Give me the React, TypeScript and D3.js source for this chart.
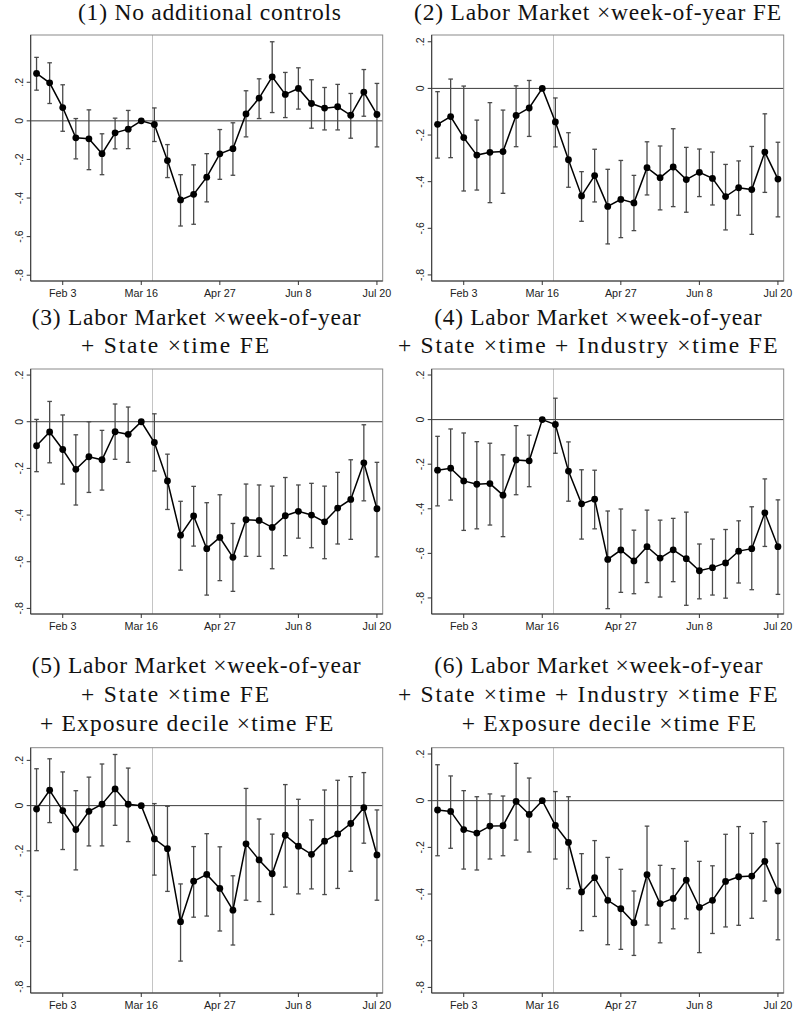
import React from 'react';
import * as d3 from 'd3';

// week-of-year coefficients, one Monday per point, Jan 20 .. Jul 20 (2020)
const weeks = d3.utcMonday.range(new Date(Date.UTC(2020, 0, 20)), new Date(Date.UTC(2020, 6, 21)));

const tickDates = ['2020-02-03', '2020-03-16', '2020-04-27', '2020-06-08', '2020-07-20'];
const tickLabels = ['Feb 3', 'Mar 16', 'Apr 27', 'Jun 8', 'Jul 20'];
const yTicks = [0.2, 0, -0.2, -0.4, -0.6, -0.8];
const yTickLabels = ['.2', '0', '-.2', '-.4', '-.6', '-.8'];
const eventDate = '2020-03-22';

const titles = [
  ['(1) No additional controls'],
  ['(2) Labor Market \u00d7week-of-year FE'],
  ['(3) Labor Market \u00d7week-of-year', '+ State \u00d7time FE'],
  ['(4) Labor Market \u00d7week-of-year', '+ State \u00d7time + Industry \u00d7time FE'],
  ['(5) Labor Market \u00d7week-of-year', '+ State \u00d7time FE', '+ Exposure decile \u00d7time FE'],
  ['(6) Labor Market \u00d7week-of-year', '+ State \u00d7time + Industry \u00d7time FE', '+ Exposure decile \u00d7time FE'],
];

const est1 = [0.246, 0.197, 0.069, -0.088, -0.093, -0.170, -0.062, -0.043, 0, -0.019, -0.206, -0.410, -0.381, -0.292, -0.171, -0.144, 0.036, 0.118, 0.228, 0.137, 0.168, 0.090, 0.066, 0.073, 0.029, 0.149, 0.033];
const hi1 = [0.329, 0.301, 0.187, 0.012, 0.057, -0.067, 0.014, 0.054, null, 0.067, -0.123, -0.279, -0.228, -0.170, -0.045, -0.010, 0.156, 0.218, 0.410, 0.251, 0.275, 0.213, 0.173, 0.189, 0.142, 0.266, 0.194];
const lo1 = [0.159, 0.090, -0.054, -0.197, -0.253, -0.279, -0.145, -0.144, null, -0.107, -0.294, -0.545, -0.536, -0.420, -0.303, -0.282, -0.083, 0.012, 0.043, 0.017, 0.061, -0.038, -0.047, -0.047, -0.090, 0.024, -0.135];

const est2 = [-0.154, -0.121, -0.211, -0.286, -0.274, -0.271, -0.116, -0.084, 0, -0.144, -0.306, -0.461, -0.374, -0.506, -0.476, -0.491, -0.340, -0.383, -0.337, -0.391, -0.360, -0.386, -0.464, -0.426, -0.434, -0.273, -0.389];
const hi2 = [-0.014, 0.040, 0.010, -0.136, -0.061, -0.093, 0.011, 0.034, null, -0.041, -0.190, -0.357, -0.261, -0.347, -0.309, -0.373, -0.229, -0.247, -0.173, -0.253, -0.260, -0.273, -0.326, -0.311, -0.249, -0.109, -0.231];
const lo2 = [-0.299, -0.297, -0.440, -0.436, -0.490, -0.450, -0.250, -0.206, null, -0.251, -0.424, -0.570, -0.487, -0.667, -0.640, -0.610, -0.457, -0.521, -0.507, -0.531, -0.464, -0.500, -0.607, -0.544, -0.626, -0.446, -0.551];

const est3 = [-0.103, -0.044, -0.119, -0.204, -0.150, -0.163, -0.043, -0.054, 0, -0.089, -0.254, -0.486, -0.404, -0.544, -0.496, -0.581, -0.420, -0.423, -0.453, -0.403, -0.384, -0.400, -0.429, -0.370, -0.333, -0.176, -0.373];
const hi3 = [0.010, 0.087, 0.029, -0.056, 0.000, -0.037, 0.076, 0.063, null, 0.034, -0.139, -0.341, -0.277, -0.347, -0.313, -0.436, -0.267, -0.271, -0.276, -0.239, -0.271, -0.264, -0.276, -0.217, -0.163, -0.013, -0.174];
const lo3 = [-0.214, -0.176, -0.267, -0.357, -0.303, -0.293, -0.161, -0.174, null, -0.211, -0.376, -0.636, -0.533, -0.743, -0.681, -0.727, -0.577, -0.577, -0.630, -0.574, -0.499, -0.540, -0.587, -0.524, -0.504, -0.339, -0.579];

const est4 = [-0.227, -0.218, -0.275, -0.290, -0.287, -0.339, -0.181, -0.185, 0, -0.022, -0.231, -0.378, -0.357, -0.627, -0.585, -0.634, -0.570, -0.621, -0.584, -0.624, -0.678, -0.664, -0.643, -0.590, -0.579, -0.418, -0.570];
const hi4 = [-0.075, -0.042, -0.060, -0.099, -0.106, -0.158, -0.027, -0.070, null, 0.096, -0.100, -0.225, -0.227, -0.410, -0.401, -0.496, -0.406, -0.451, -0.443, -0.415, -0.558, -0.536, -0.493, -0.454, -0.391, -0.266, -0.360];
const lo4 = [-0.387, -0.361, -0.497, -0.490, -0.473, -0.525, -0.337, -0.301, null, -0.151, -0.366, -0.536, -0.490, -0.848, -0.775, -0.781, -0.731, -0.796, -0.727, -0.833, -0.804, -0.787, -0.801, -0.733, -0.763, -0.569, -0.784];

const est5 = [-0.015, 0.068, -0.022, -0.106, -0.025, 0.006, 0.074, 0.006, 0, -0.147, -0.190, -0.513, -0.334, -0.304, -0.366, -0.462, -0.169, -0.240, -0.301, -0.131, -0.179, -0.215, -0.157, -0.125, -0.079, -0.009, -0.218];
const hi5 = [0.163, 0.207, 0.149, 0.066, 0.126, 0.184, 0.226, 0.166, null, 0.009, -0.003, -0.346, -0.181, -0.124, -0.182, -0.310, 0.076, -0.059, -0.126, 0.093, 0.028, -0.063, 0.069, 0.112, 0.128, 0.146, -0.019];
const lo5 = [-0.199, -0.075, -0.194, -0.284, -0.178, -0.178, -0.087, -0.159, null, -0.307, -0.379, -0.687, -0.493, -0.488, -0.554, -0.616, -0.418, -0.424, -0.481, -0.360, -0.390, -0.368, -0.393, -0.366, -0.290, -0.166, -0.418];

const est6 = [-0.040, -0.046, -0.124, -0.139, -0.109, -0.107, -0.003, -0.059, 0, -0.106, -0.179, -0.391, -0.330, -0.427, -0.463, -0.523, -0.317, -0.441, -0.419, -0.340, -0.457, -0.427, -0.346, -0.326, -0.323, -0.260, -0.387];
const hi6 = [0.154, 0.106, 0.043, 0.017, 0.029, 0.020, 0.160, 0.097, null, 0.039, 0.017, -0.227, -0.171, -0.243, -0.294, -0.387, -0.109, -0.277, -0.291, -0.174, -0.260, -0.279, -0.144, -0.111, -0.140, -0.090, -0.183];
const lo6 = [-0.236, -0.204, -0.293, -0.297, -0.250, -0.236, -0.169, -0.220, null, -0.250, -0.377, -0.557, -0.496, -0.617, -0.637, -0.663, -0.533, -0.609, -0.549, -0.506, -0.651, -0.569, -0.541, -0.534, -0.504, -0.430, -0.596];

const estimates = [est1, est2, est3, est4, est5, est6];
const upper = [hi1, hi2, hi3, hi4, hi5, hi6];
const lower = [lo1, lo2, lo3, lo4, lo5, lo6];

// y range of each panel (Stata pads each one a little differently)
const yDomains = [[-0.83, 0.445], [-0.826, 0.229], [-0.824, 0.226], [-0.872, 0.227], [-0.828, 0.256], [-0.824, 0.227]];

// layout
const W = 795;
const H = 1024;
const colX = [30.7, 431.7];
const rowY = [[35, 281], [369, 614], [747.7, 993]];
const plotW = 352;
const dayPad = 3.1;
// title lines: [x start, x end, baseline]
const titleLayout = [
  [[78, 341, 20]],
  [[414, 781, 20]],
  [[31.7, 360.7, 325], [81, 269, 352.7]],
  [[434.3, 761.7, 325], [398, 777.7, 352.7]],
  [[31.7, 360.7, 673.3], [81, 269, 702.2], [40, 333.3, 730.7]],
  [[434.3, 762.7, 673.3], [398, 777.7, 702.2], [461.7, 756, 730.7]],
];

const serif = '"Liberation Serif", "Times New Roman", serif';
const sans = '"Liberation Sans", Arial, Helvetica, sans-serif';

function Panel({ idx }: { idx: number }) {
  const x0 = colX[idx % 2];
  const [y0, y1] = rowY[Math.floor(idx / 2)];
  const first = weeks[0];
  const last = weeks[weeks.length - 1];
  const x = d3.scaleUtc()
    .domain([d3.utcHour.offset(first, -dayPad * 24), d3.utcHour.offset(last, dayPad * 24)])
    .range([x0, x0 + plotW]);
  const y = d3.scaleLinear().domain(yDomains[idx]).range([y1, y0]);

  const est = estimates[idx];
  const hi = upper[idx];
  const lo = lower[idx];
  const pts = weeks.map((d, i) => ({ d, v: est[i], hi: hi[i], lo: lo[i] }));
  const line = d3.line<{ d: Date; v: number }>().x(p => x(p.d)).y(p => y(p.v));
  const ev = x(new Date(eventDate));

  return (
    <g>
      {/* vertical event line */}
      <line x1={ev} x2={ev} y1={y0} y2={y1} stroke="#c4c4c4" strokeWidth={1} />
      {/* zero line */}
      <line x1={x0} x2={x0 + plotW} y1={y(0)} y2={y(0)} stroke="#3a3a3a" strokeWidth={1} />
      {/* frame */}
      <rect x={x0} y={y0} width={plotW} height={y1 - y0} fill="none" stroke="#8a8a8a" strokeWidth={1} />
      <line x1={x0} x2={x0} y1={y0} y2={y1} stroke="#333" strokeWidth={1} />
      <line x1={x0} x2={x0 + plotW} y1={y1} y2={y1} stroke="#333" strokeWidth={1} />

      {/* y axis */}
      {yTicks.map((t, i) => (
        <g key={'y' + i}>
          <line x1={x0 - 4} x2={x0} y1={y(t)} y2={y(t)} stroke="#333" strokeWidth={1} />
          <text
            transform={`translate(${x0 - 8},${y(t)}) rotate(-90)`}
            textAnchor="middle"
            fontFamily={sans}
            fontSize={10.5}
            fill="#222"
          >
            {yTickLabels[i]}
          </text>
        </g>
      ))}

      {/* x axis */}
      {tickDates.map((t, i) => {
        const tx = x(new Date(t));
        return (
          <g key={'x' + i}>
            <line x1={tx} x2={tx} y1={y1} y2={y1 + 4} stroke="#333" strokeWidth={1} />
            <text x={tx} y={y1 + 15.5} textAnchor="middle" fontFamily={sans} fontSize={10.8} fill="#222">
              {tickLabels[i]}
            </text>
          </g>
        );
      })}

      {/* confidence intervals */}
      {pts.filter(p => p.hi !== null && p.lo !== null).map((p, i) => {
        const px = x(p.d);
        return (
          <g key={'ci' + i} stroke="#4a4a4a" strokeWidth={1.3}>
            <line x1={px} x2={px} y1={y(p.hi as number)} y2={y(p.lo as number)} />
            <line x1={px - 2.3} x2={px + 2.3} y1={y(p.hi as number)} y2={y(p.hi as number)} />
            <line x1={px - 2.3} x2={px + 2.3} y1={y(p.lo as number)} y2={y(p.lo as number)} />
          </g>
        );
      })}

      {/* point estimates */}
      <path d={line(pts) || ''} fill="none" stroke="#000" strokeWidth={1.5} />
      {pts.map((p, i) => (
        <circle key={'p' + i} cx={x(p.d)} cy={y(p.v)} r={3.4} fill="#000" />
      ))}

      {/* title */}
      {titles[idx].map((s, j) => {
        const [tx0, tx1, ty] = titleLayout[idx][j];
        return (
          <text
            key={'t' + j}
            x={tx0}
            y={ty}
            textLength={tx1 - tx0}
            lengthAdjust="spacing"
            fontFamily={serif}
            fontSize={23.5}
            fill="#111"
          >
            {s}
          </text>
        );
      })}
    </g>
  );
}

export default function App() {
  return (
    <svg
      width={W}
      height={H}
      viewBox={`0 0 ${W} ${H}`}
      style={{ position: 'absolute', left: 0, top: 0, display: 'block', background: '#fff' }}
    >
      <rect x={0} y={0} width={W} height={H} fill="#fff" />
      {titles.map((_, i) => (
        <Panel key={i} idx={i} />
      ))}
    </svg>
  );
}
